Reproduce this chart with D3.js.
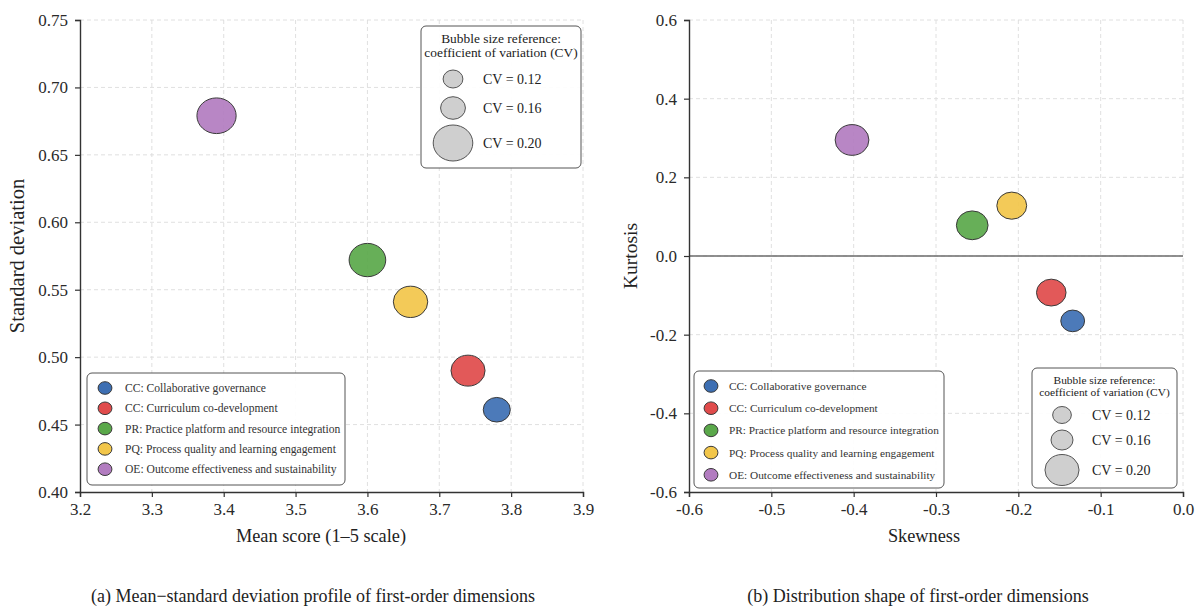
<!DOCTYPE html>
<html>
<head>
<meta charset="utf-8">
<script src="https://cdn.jsdelivr.net/npm/d3@7"></script>
<style>
  body { margin: 0; background: #fff; }
  svg { display: block; }
  svg text { font-family: "Liberation Serif", "DejaVu Serif", serif; }
</style>
</head>
<body>
<div id="chart"></div>
<script>
// dimensions, in the order they appear in the legend
const dimNames = [
  "CC: Collaborative governance",
  "CC: Curriculum co-development",
  "PR: Practice platform and resource integration",
  "PQ: Process quality and learning engagement",
  "OE: Outcome effectiveness and sustainability"
];
const dimColors = ["#3d6fb3", "#e04b4b", "#5aa84a", "#f2c64a", "#b27cc0"];

const meanScore = [3.78, 3.74, 3.60, 3.66, 3.39];
const stdDev    = [0.461, 0.490, 0.572, 0.541, 0.679];
const skewness  = [-0.134, -0.160, -0.256, -0.208, -0.402];
const kurtosis  = [-0.165, -0.093, 0.078, 0.128, 0.295];
const cvValues  = [0.166, 0.185, 0.192, 0.186, 0.199];

const legendCV = [0.12, 0.16, 0.20];

const xTicksA = [3.2, 3.3, 3.4, 3.5, 3.6, 3.7, 3.8, 3.9];
const yTicksA = [0.40, 0.45, 0.50, 0.55, 0.60, 0.65, 0.70, 0.75];
const xTicksB = [-0.6, -0.5, -0.4, -0.3, -0.2, -0.1, 0.0];
const yTicksB = [-0.6, -0.4, -0.2, 0.0, 0.2, 0.4, 0.6];

const W = 1198, H = 608;
const STRETCH = 1.1; // bubbles look a little wider than tall in the figure

const svg = d3.select("#chart").append("svg")
    .attr("width", W)
    .attr("height", H);

const rows = dimNames.map(function(d, i) {
  return {name: d, color: dimColors[i], mean: meanScore[i], sd: stdDev[i],
          skew: skewness[i], kurt: kurtosis[i], cv: cvValues[i]};
});

function drawPanel(cfg) {
  const g = svg.append("g");
  const x = d3.scaleLinear().domain(cfg.xDomain).range([cfg.left, cfg.right]);
  const y = d3.scaleLinear().domain(cfg.yDomain).range([cfg.bottom, cfg.top]);
  const r = d3.scaleLinear().domain(legendCV).range(cfg.rRange);

  // grid
  g.append("g").selectAll("line").data(cfg.xTicks.slice(1)).enter()
    .append("line")
    .attr("x1", d => x(d)).attr("x2", d => x(d))
    .attr("y1", cfg.top).attr("y2", cfg.bottom)
    .attr("stroke", "#dcdcdc").attr("stroke-width", 0.9)
    .attr("stroke-dasharray", "4,3");
  g.append("g").selectAll("line").data(cfg.yTicks.slice(1)).enter()
    .append("line")
    .attr("x1", cfg.left).attr("x2", cfg.right)
    .attr("y1", d => y(d)).attr("y2", d => y(d))
    .attr("stroke", "#dcdcdc").attr("stroke-width", 0.9)
    .attr("stroke-dasharray", "4,3");

  if (cfg.zeroLine) {
    g.append("line")
      .attr("x1", cfg.left).attr("x2", cfg.right)
      .attr("y1", y(0)).attr("y2", y(0))
      .attr("stroke", "#6b6b6b").attr("stroke-width", 1.3);
  }

  // axes
  const xAxis = g.append("g")
      .attr("transform", "translate(0," + cfg.bottom + ")")
      .call(d3.axisBottom(x).tickValues(cfg.xTicks).tickFormat(cfg.xFmt).tickSizeOuter(0).tickSize(5).tickPadding(6));
  const yAxis = g.append("g")
      .attr("transform", "translate(" + cfg.left + ",0)")
      .call(d3.axisLeft(y).tickValues(cfg.yTicks).tickFormat(cfg.yFmt).tickSizeOuter(0).tickSize(5).tickPadding(7));
  [xAxis, yAxis].forEach(function(a) {
    a.attr("font-family", null);
    a.select(".domain").attr("stroke", "#333").attr("stroke-width", 1.4);
    a.selectAll(".tick line").attr("stroke", "#333").attr("stroke-width", 1.2);
    a.selectAll("text")
      .style("font-family", "'Liberation Serif', serif")
      .style("font-size", "17px")
      .attr("fill", "#2a2a2a");
  });

  // bubbles
  g.append("g").selectAll("ellipse").data(rows).enter()
    .append("ellipse")
    .attr("cx", d => x(d[cfg.xKey]))
    .attr("cy", d => y(d[cfg.yKey]))
    .attr("ry", d => r(d.cv))
    .attr("rx", d => r(d.cv) * STRETCH)
    .attr("fill", d => d.color)
    .attr("fill-opacity", 0.92)
    .attr("stroke", "#3a3a3a")
    .attr("stroke-width", 1);

  // axis labels
  g.append("text")
    .attr("x", cfg.xLabelX).attr("y", 542)
    .attr("text-anchor", "middle")
    .attr("font-size", 18.3).attr("fill", "#222")
    .text(cfg.xLabel);
  g.append("text")
    .attr("transform", "translate(" + cfg.yLabelX + "," + ((cfg.top + cfg.bottom) / 2) + ") rotate(-90)")
    .attr("text-anchor", "middle")
    .attr("font-size", cfg.yLabelSize).attr("fill", "#222")
    .text(cfg.yLabel);

  // caption
  g.append("text")
    .attr("x", cfg.captionX).attr("y", 602)
    .attr("text-anchor", "middle")
    .attr("font-size", 18).attr("fill", "#222")
    .text(cfg.caption);

  // dimension legend
  const lg = cfg.dimLegend;
  g.append("rect")
    .attr("x", lg.x).attr("y", lg.y).attr("width", lg.w).attr("height", lg.h)
    .attr("rx", 5).attr("fill", "#fff").attr("fill-opacity", 0.92)
    .attr("stroke", "#555").attr("stroke-width", 1);
  const item = g.append("g").selectAll("g").data(rows).enter()
    .append("g")
    .attr("transform", (d, i) => "translate(" + lg.mx + "," + (lg.my + i * lg.step) + ")");
  item.append("ellipse")
    .attr("rx", 6.3 * STRETCH).attr("ry", 6.3)
    .attr("fill", d => d.color).attr("stroke", "#3a3a3a").attr("stroke-width", 1);
  item.append("text")
    .attr("x", lg.tx - lg.mx).attr("dy", "0.35em")
    .attr("font-size", lg.fs).attr("fill", "#333")
    .text(d => d.name);

  // bubble size legend
  const sl = cfg.sizeLegend;
  g.append("rect")
    .attr("x", sl.x).attr("y", sl.y).attr("width", sl.w).attr("height", sl.h)
    .attr("rx", 5).attr("fill", "#fff").attr("fill-opacity", 0.92)
    .attr("stroke", "#555").attr("stroke-width", 1);
  g.append("text")
    .attr("x", sl.x + sl.w / 2).attr("y", sl.t1)
    .attr("text-anchor", "middle").attr("font-size", sl.fs).attr("fill", "#222")
    .text("Bubble size reference:");
  g.append("text")
    .attr("x", sl.x + sl.w / 2).attr("y", sl.t2)
    .attr("text-anchor", "middle").attr("font-size", sl.fs).attr("fill", "#222")
    .text("coefficient of variation (CV)");
  const si = g.append("g").selectAll("g").data(legendCV).enter()
    .append("g")
    .attr("transform", (d, i) => "translate(0," + sl.cy[i] + ")");
  si.append("ellipse")
    .attr("cx", sl.cx)
    .attr("ry", d => r(d)).attr("rx", d => r(d) * STRETCH)
    .attr("fill", "#cfcfcf").attr("stroke", "#555").attr("stroke-width", 1);
  si.append("text")
    .attr("x", sl.lx).attr("dy", "0.35em")
    .attr("font-size", 14).attr("fill", "#222")
    .text(d => "CV = " + d.toFixed(2));
}

drawPanel({
  left: 80, right: 583, top: 20, bottom: 492,
  xDomain: [3.2, 3.9], yDomain: [0.40, 0.75],
  xTicks: xTicksA, yTicks: yTicksA,
  xFmt: d => d.toFixed(1), yFmt: d => d.toFixed(2),
  xKey: "mean", yKey: "sd",
  rRange: [9, 11.3, 18],
  xLabel: "Mean score (1\u20135 scale)", xLabelX: 321,
  yLabel: "Standard deviation", yLabelX: 24, yLabelSize: 20.5,
  caption: "(a) Mean\u2212standard deviation profile of first-order dimensions", captionX: 313,
  dimLegend: {x: 87, y: 373, w: 258, h: 112, mx: 105, my: 388, step: 20.3, tx: 125, fs: 11.6},
  sizeLegend: {x: 421, y: 26, w: 160, h: 142, t1: 43, t2: 57, cx: 453, cy: [79, 108, 143], lx: 483, fs: 13.4}
});

drawPanel({
  left: 689, right: 1183, top: 20, bottom: 492,
  xDomain: [-0.6, 0.0], yDomain: [-0.6, 0.6],
  xTicks: xTicksB, yTicks: yTicksB,
  xFmt: d => d.toFixed(1), yFmt: d => d.toFixed(1),
  xKey: "skew", yKey: "kurt",
  rRange: [8.5, 10, 15.5],
  zeroLine: true,
  xLabel: "Skewness", xLabelX: 924,
  yLabel: "Kurtosis", yLabelX: 637, yLabelSize: 19.5,
  caption: "(b) Distribution shape of first-order dimensions", captionX: 918,
  dimLegend: {x: 694, y: 371, w: 250, h: 117, mx: 711, my: 386, step: 22.2, tx: 729, fs: 11.3},
  sizeLegend: {x: 1032, y: 368, w: 145, h: 120, t1: 384, t2: 396, cx: 1062, cy: [415, 440, 470], lx: 1092, fs: 11.4}
});
</script>
</body>
</html>
